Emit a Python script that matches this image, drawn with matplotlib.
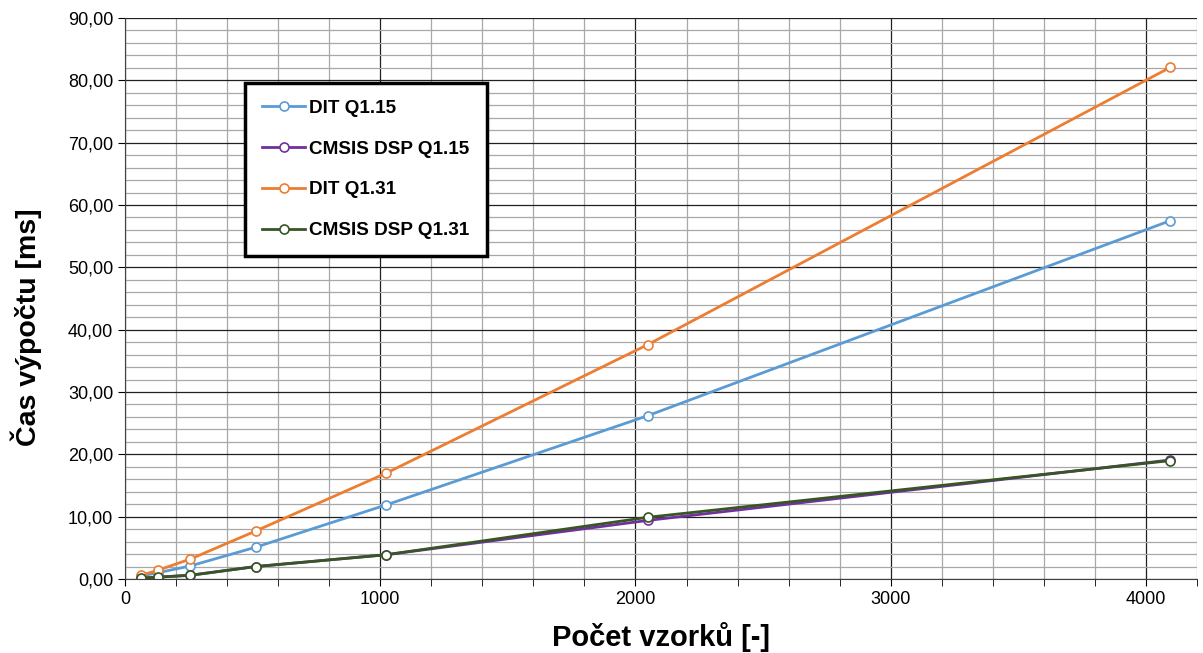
#Importing Modules
import numpy as np
import matplotlib.pyplot as plt
from matplotlib.ticker import MultipleLocator, FuncFormatter

#---------/Data/------------------------------#

#Number of samples (FFT length)
n_samples = [64, 128, 256, 512, 1024, 2048, 4096]

#Computation time [ms]
dit_q15 = [0.5, 1.0, 2.1, 5.1, 11.9, 26.2, 57.5]
cmsis_q15 = [0.15, 0.3, 0.6, 2.0, 3.9, 9.4, 19.1]
dit_q31 = [0.6, 1.4, 3.2, 7.7, 17.0, 37.6, 82.1]
cmsis_q31 = [0.15, 0.3, 0.6, 2.0, 3.9, 9.9, 19.0]

labels = ["DIT Q1.15", "CMSIS DSP Q1.15", "DIT Q1.31", "CMSIS DSP Q1.31"]
colors = ["#5B9BD5", "#7030A0", "#ED7D31", "#375623"]

#---------/Plot/------------------------------#

plt.rcParams['font.family'] = ['Liberation Sans', 'DejaVu Sans']

fig = plt.figure(figsize=(12.03, 6.53), dpi=100)
ax = fig.add_axes([0.1039, 0.1133, 0.8911, 0.8591])

series = [dit_q15, cmsis_q15, dit_q31, cmsis_q31]
for vals, lab, col in zip(series, labels, colors):
    ax.plot(n_samples, vals, color=col, lw=2, label=lab,
            marker="o", markersize=6.5, markerfacecolor="white",
            markeredgecolor=col, markeredgewidth=1.2)

#Axis limits and ticks
ax.set_xlim(0, 4200)
ax.set_ylim(0, 90)
ax.xaxis.set_major_locator(MultipleLocator(1000))
ax.xaxis.set_minor_locator(MultipleLocator(200))
ax.yaxis.set_major_locator(MultipleLocator(10))
ax.yaxis.set_minor_locator(MultipleLocator(2))
ax.yaxis.set_major_formatter(FuncFormatter(lambda v, p: ("%.2f" % v).replace(".", ",")))

#Grid
ax.grid(which="major", color="#202020", lw=0.9)
ax.grid(which="minor", color="#a8a8a8", lw=0.9)
ax.set_axisbelow(True)

ax.tick_params(axis="both", which="major", labelsize=13, length=5, direction="out")
ax.tick_params(axis="x", which="minor", length=5, direction="out")
ax.tick_params(axis="y", which="minor", length=0)

for s in ["top", "right"]:
    ax.spines[s].set_visible(False)
ax.spines["left"].set_color("#404040")
ax.spines["bottom"].set_color("#404040")

#Labels
ax.set_xlabel("Počet vzorků [-]", fontsize=21, fontweight="bold", labelpad=10)
ax.set_ylabel("Čas výpočtu [ms]", fontsize=20.5, fontweight="bold")
ax.yaxis.set_label_coords(-0.077, 0.449)

#Legend
leg = ax.legend(loc="upper left", bbox_to_anchor=(0.112, 0.885),
                prop={"weight": "bold", "size": 13.6}, frameon=True,
                fancybox=False, labelspacing=1.25, handlelength=2.3,
                handletextpad=0.2, borderpad=0.9, borderaxespad=0)
leg.get_frame().set_edgecolor("black")
leg.get_frame().set_linewidth(2.5)
leg.get_frame().set_alpha(1)

plt.savefig("out.png", dpi=100)
